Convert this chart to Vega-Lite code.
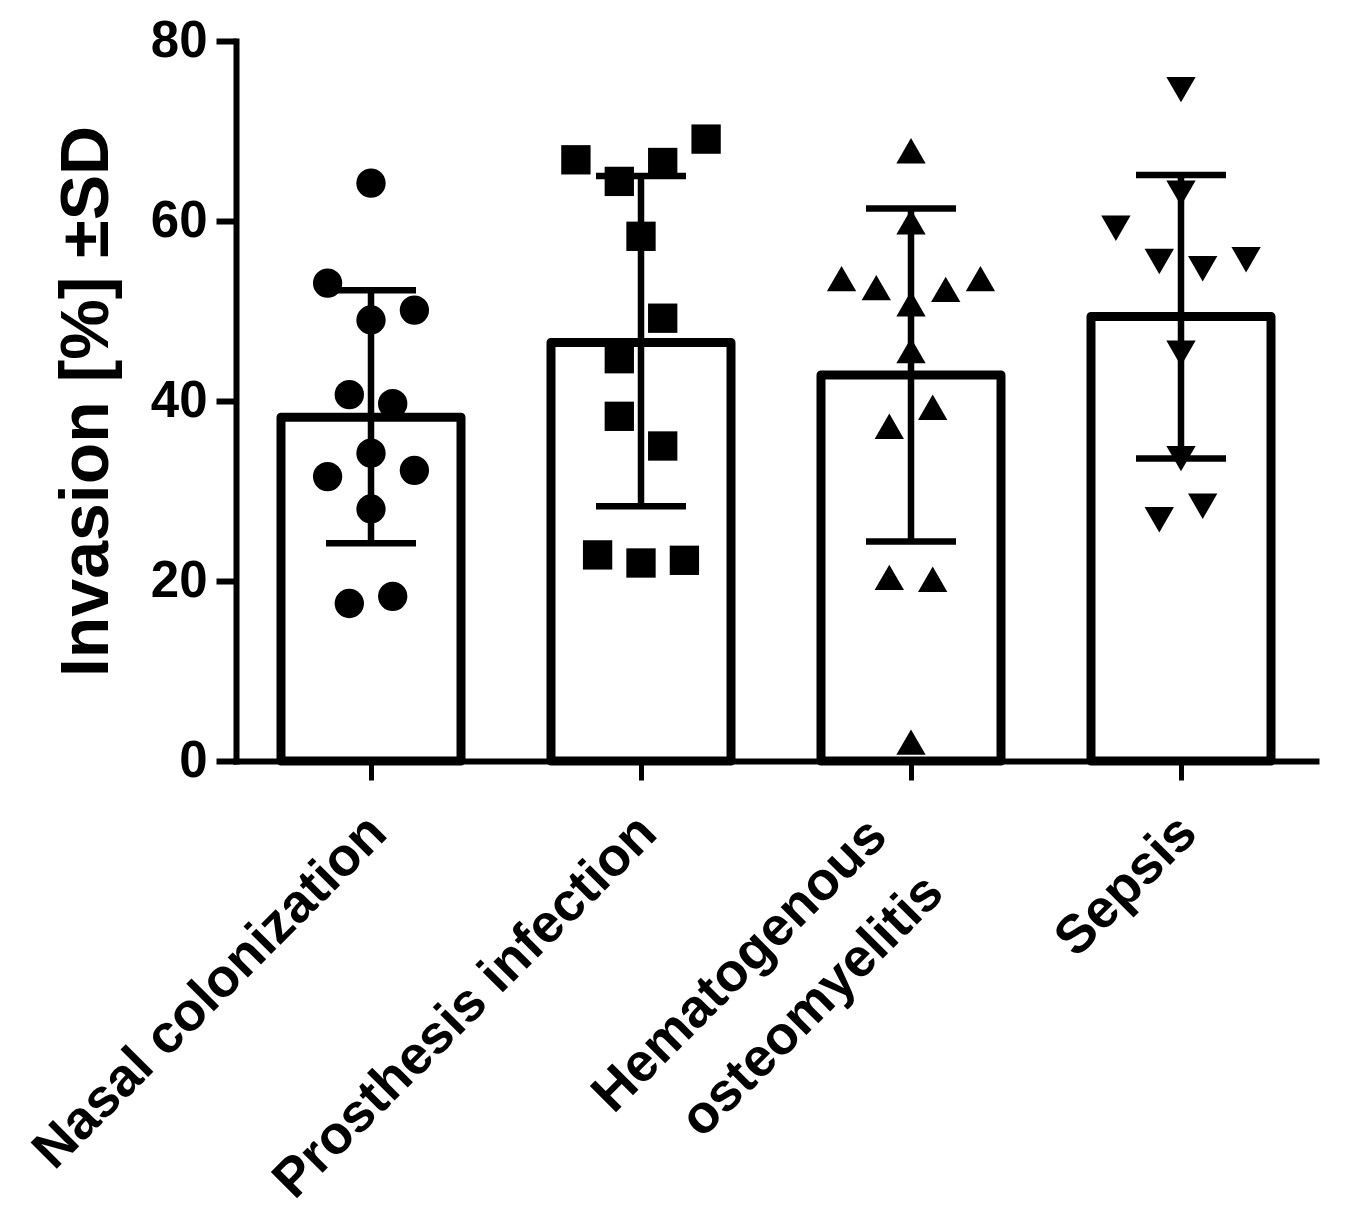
{
  "$schema": "https://vega.github.io/schema/vega-lite/v6.json",
  "width": 1080,
  "height": 720,
  "autosize": {"type": "none"},
  "padding": {"left": 236, "top": 41, "right": 30, "bottom": 451},
  "background": "white",
  "config": {"view": {"stroke": null}, "font": "Liberation Sans"},
  "datasets": {
    "bars": [
      {"group": "Nasal colonization", "mean": 38.2, "lo": 24.2, "hi": 52.3},
      {"group": "Prosthesis infection", "mean": 46.5, "lo": 28.3, "hi": 65.0},
      {"group": "Hematogenous osteomyelitis", "mean": 42.9, "lo": 24.4, "hi": 61.4},
      {"group": "Sepsis", "mean": 49.4, "lo": 33.6, "hi": 65.1}
    ],
    "points": [
      {"group": "Nasal colonization", "value": 64.2, "slot": 0},
      {"group": "Nasal colonization", "value": 53.1, "slot": -2},
      {"group": "Nasal colonization", "value": 50.1, "slot": 2},
      {"group": "Nasal colonization", "value": 49.0, "slot": 0},
      {"group": "Nasal colonization", "value": 40.7, "slot": -1},
      {"group": "Nasal colonization", "value": 39.7, "slot": 1},
      {"group": "Nasal colonization", "value": 34.2, "slot": 0},
      {"group": "Nasal colonization", "value": 31.6, "slot": -2},
      {"group": "Nasal colonization", "value": 32.3, "slot": 2},
      {"group": "Nasal colonization", "value": 28.0, "slot": 0},
      {"group": "Nasal colonization", "value": 17.5, "slot": -1},
      {"group": "Nasal colonization", "value": 18.3, "slot": 1},
      {"group": "Prosthesis infection", "value": 66.8, "slot": -3},
      {"group": "Prosthesis infection", "value": 64.4, "slot": -1},
      {"group": "Prosthesis infection", "value": 66.5, "slot": 1},
      {"group": "Prosthesis infection", "value": 69.1, "slot": 3},
      {"group": "Prosthesis infection", "value": 58.3, "slot": 0},
      {"group": "Prosthesis infection", "value": 49.2, "slot": 1},
      {"group": "Prosthesis infection", "value": 44.7, "slot": -1},
      {"group": "Prosthesis infection", "value": 38.3, "slot": -1},
      {"group": "Prosthesis infection", "value": 35.0, "slot": 1},
      {"group": "Prosthesis infection", "value": 22.9, "slot": -2},
      {"group": "Prosthesis infection", "value": 22.0, "slot": 0},
      {"group": "Prosthesis infection", "value": 22.3, "slot": 2},
      {"group": "Hematogenous osteomyelitis", "value": 67.8, "slot": 0},
      {"group": "Hematogenous osteomyelitis", "value": 59.9, "slot": 0},
      {"group": "Hematogenous osteomyelitis", "value": 53.6, "slot": -3.2},
      {"group": "Hematogenous osteomyelitis", "value": 52.6, "slot": -1.6},
      {"group": "Hematogenous osteomyelitis", "value": 50.8, "slot": 0},
      {"group": "Hematogenous osteomyelitis", "value": 52.4, "slot": 1.6},
      {"group": "Hematogenous osteomyelitis", "value": 53.6, "slot": 3.2},
      {"group": "Hematogenous osteomyelitis", "value": 45.6, "slot": 0},
      {"group": "Hematogenous osteomyelitis", "value": 37.2, "slot": -1},
      {"group": "Hematogenous osteomyelitis", "value": 39.3, "slot": 1},
      {"group": "Hematogenous osteomyelitis", "value": 20.4, "slot": -1},
      {"group": "Hematogenous osteomyelitis", "value": 20.2, "slot": 1},
      {"group": "Hematogenous osteomyelitis", "value": 2.1, "slot": 0},
      {"group": "Sepsis", "value": 74.6, "slot": 0},
      {"group": "Sepsis", "value": 63.1, "slot": 0},
      {"group": "Sepsis", "value": 59.2, "slot": -3},
      {"group": "Sepsis", "value": 55.5, "slot": -1},
      {"group": "Sepsis", "value": 54.7, "slot": 1},
      {"group": "Sepsis", "value": 55.7, "slot": 3},
      {"group": "Sepsis", "value": 45.3, "slot": 0},
      {"group": "Sepsis", "value": 33.6, "slot": 0},
      {"group": "Sepsis", "value": 26.8, "slot": -1},
      {"group": "Sepsis", "value": 28.3, "slot": 1}
    ]
  },
  "layer": [
    {
      "data": {"name": "bars"},
      "mark": {"type": "bar", "fill": "white", "stroke": "black", "strokeWidth": 9, "strokeJoin": "round", "width": {"band": 0.6667}},
      "encoding": {
        "x": {
          "field": "group", "type": "nominal", "sort": null,
          "scale": {"paddingInner": 0, "paddingOuter": 0},
          "axis": {
            "title": null,
            "labelAngle": -45,
            "labelAlign": "right",
            "labelBaseline": "top",
            "labelFont": "Liberation Sans",
            "labelFontWeight": "bold",
            "labelFontSize": 54,
            "labelColor": "black",
            "labelPadding": {"condition": {"test": "datum.value == 'Hematogenous osteomyelitis'", "value": 28}, "value": 25},
            "labelOffset": {"condition": {"test": "datum.value == 'Hematogenous osteomyelitis'", "value": -52}, "value": -12},
            "labelLimit": 0,
            "labelLineHeight": 80,
            "labelExpr": "datum.value == 'Hematogenous osteomyelitis' ? ['Hematogenous', 'osteomyelitis'] : datum.label",
            "tickSize": 19,
            "tickWidth": 5,
            "tickColor": "black",
            "domainColor": "black",
            "domainWidth": 6,
            "domainCap": "square"
          }
        },
        "y": {
          "field": "mean", "type": "quantitative",
          "scale": {"domain": [0, 80], "nice": false},
          "axis": {
            "values": [0, 20, 40, 60, 80],
            "grid": false,
            "title": "Invasion [%] ±SD",
            "titleFont": "Liberation Sans",
            "titleFontWeight": "bold",
            "titleFontSize": 68,
            "titleColor": "black",
            "titlePadding": 29,
            "labelFont": "Liberation Sans",
            "labelFontWeight": "bold",
            "labelFontSize": 51,
            "labelColor": "black",
            "labelPadding": 9,
            "labelFlush": false,
            "labelOverlap": false,
            "tickSize": 20,
            "tickWidth": 6,
            "tickColor": "black",
            "domainColor": "black",
            "domainWidth": 6,
            "domainCap": "square"
          }
        }
      }
    },
    {
      "data": {"name": "bars"},
      "mark": {"type": "rule", "strokeWidth": 6.5, "color": "black"},
      "encoding": {
        "x": {"field": "group", "type": "nominal", "sort": null},
        "y": {"field": "lo", "type": "quantitative"},
        "y2": {"field": "hi"}
      }
    },
    {
      "data": {"name": "bars"},
      "mark": {"type": "tick", "thickness": 6.5, "size": 90, "color": "black", "opacity": 1, "orient": "horizontal"},
      "encoding": {
        "x": {"field": "group", "type": "nominal", "sort": null},
        "y": {"field": "hi", "type": "quantitative"}
      }
    },
    {
      "data": {"name": "bars"},
      "mark": {"type": "tick", "thickness": 6.5, "size": 90, "color": "black", "opacity": 1, "orient": "horizontal"},
      "encoding": {
        "x": {"field": "group", "type": "nominal", "sort": null},
        "y": {"field": "lo", "type": "quantitative"}
      }
    },
    {
      "data": {"name": "points"},
      "mark": {"type": "point", "filled": true, "opacity": 1, "color": "black", "strokeWidth": 0, "xOffset": {"expr": "datum.slot * 21.7"}},
      "encoding": {
        "x": {"field": "group", "type": "nominal", "sort": null},
        "y": {"field": "value", "type": "quantitative"},
        "shape": {
          "field": "group", "type": "nominal", "sort": null, "legend": null,
          "scale": {"domain": ["Nasal colonization", "Prosthesis infection", "Hematogenous osteomyelitis", "Sepsis"], "range": ["circle", "square", "triangle-up", "triangle-down"]}
        },
        "size": {
          "field": "group", "type": "ordinal", "sort": null, "legend": null,
          "scale": {"domain": ["Nasal colonization", "Prosthesis infection", "Hematogenous osteomyelitis", "Sepsis"], "range": [860, 860, 790, 800]}
        }
      }
    }
  ]
}
